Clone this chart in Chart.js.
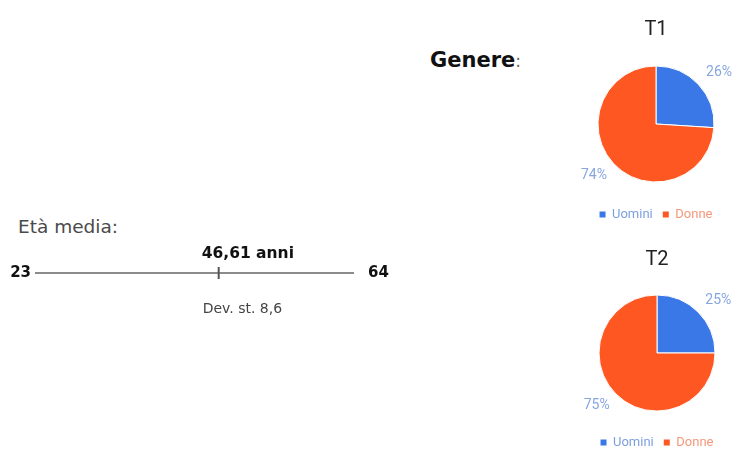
<!DOCTYPE html>
<html lang="it">
<head>
<meta charset="utf-8">
<title>Età media e genere</title>
<script src="https://cdn.jsdelivr.net/npm/chart.js@4"></script>
<style>
  html, body { margin: 0; padding: 0; background: #fff; }
  body { width: 734px; height: 454px; position: relative; overflow: hidden; font-family: 'DejaVu Sans', sans-serif; }
  .box { position: absolute; }
  #eta-label { position: absolute; left: 18px; top: 216px; font-size: 18.5px; color: #4a4a4a; }
  #genere-label { position: absolute; left: 430px; top: 48px; font-size: 21px; font-weight: bold; color: #111; }
  #genere-label span { font-weight: normal; color: #666; font-size: 17px; }
</style>
</head>
<body>
<div id="eta-label">Età media:</div>
<div id="genere-label">Genere<span>:</span></div>
<div class="box" style="left:0;top:200px;width:400px;height:130px"><canvas id="age"></canvas></div>
<div class="box" style="left:569px;top:12px;width:174px;height:219px"><canvas id="pie-t1"></canvas></div>
<div class="box" style="left:570px;top:242px;width:174px;height:217px"><canvas id="pie-t2"></canvas></div>
<script>
// età
const ageRange = [23, 64];
const ageMean = 46.61;
const ageStd = 8.6;

// genere
const genderLabels = ['Uomini', 'Donne'];
const genderColors = ['#3b78e7', '#ff5722'];
const legendTextColors = ['#7d9fdf', '#f4977a'];
const periods = ['T1', 'T2'];
const t1Values = [26, 74];
const t2Values = [25, 75];

const fmt = n => n.toString().replace('.', ',');

// estremi, media e deviazione attorno alla linea
const ageText = {
  id: 'ageText',
  afterDraw(chart) {
    const { ctx, scales: { x, y } } = chart;
    const y0 = y.getPixelForValue(0);
    const xMin = x.getPixelForValue(ageRange[0]);
    const xMax = x.getPixelForValue(ageRange[1]);
    const xm = x.getPixelForValue(ageMean);
    ctx.save();
    ctx.fillStyle = '#111';
    ctx.font = 'bold 15px "DejaVu Sans", sans-serif';
    ctx.textBaseline = 'middle';
    ctx.textAlign = 'right';
    ctx.fillText(fmt(ageRange[0]), xMin - 4, y0);
    ctx.textAlign = 'left';
    ctx.fillText(fmt(ageRange[1]), xMax + 14, y0);
    // tacca della media
    ctx.strokeStyle = '#555';
    ctx.lineWidth = 2;
    ctx.beginPath();
    ctx.moveTo(xm, y0 - 6);
    ctx.lineTo(xm, y0 + 6);
    ctx.stroke();
    ctx.font = 'bold 15.5px "DejaVu Sans", sans-serif';
    ctx.fillText(fmt(ageMean) + ' anni', xm - 17, y0 - 19);
    ctx.font = '14px "DejaVu Sans", sans-serif';
    ctx.fillStyle = '#444';
    ctx.fillText('Dev. st. ' + fmt(ageStd), xm - 16, y0 + 36);
    ctx.restore();
  }
};

new Chart(document.getElementById('age'), {
  type: 'scatter',
  data: {
    datasets: [{
      data: ageRange.map(v => ({ x: v, y: 0 })),
      showLine: true,
      borderColor: '#666',
      borderWidth: 1.5,
      pointRadius: 0
    }]
  },
  options: {
    responsive: true,
    maintainAspectRatio: false,
    animation: false,
    layout: { padding: { left: 35, right: 46, top: 30, bottom: 14 } },
    plugins: { legend: { display: false }, tooltip: { enabled: false } },
    scales: {
      x: { type: 'linear', min: ageRange[0], max: ageRange[1], display: false },
      y: { min: -1, max: 1, display: false }
    }
  },
  plugins: [ageText]
});

// percentuali fuori dalla torta
const outsideLabels = {
  id: 'outsideLabels',
  afterDatasetsDraw(chart) {
    const { ctx } = chart;
    const meta = chart.getDatasetMeta(0);
    const data = chart.data.datasets[0].data;
    const total = data.reduce((a, b) => a + b, 0);
    ctx.save();
    ctx.font = '14px Roboto, sans-serif';
    ctx.textAlign = 'center';
    ctx.textBaseline = 'middle';
    ctx.fillStyle = '#86a6e0';
    meta.data.forEach((arc, i) => {
      const mid = (arc.startAngle + arc.endAngle) / 2;
      const r = arc.outerRadius + 23;
      const dx = Math.cos(mid) * r + (Math.cos(mid) > 0 ? 4 : -3);
      const dy = Math.sin(mid) * r * 0.92;
      ctx.fillText(Math.round(data[i] / total * 100) + '%', arc.x + dx, arc.y + dy);
    });
    ctx.restore();
  }
};

function genderPie(id, title, values) {
  return new Chart(document.getElementById(id), {
    type: 'pie',
    data: {
      labels: genderLabels,
      datasets: [{
        data: values,
        backgroundColor: genderColors,
        borderColor: '#fff',
        borderWidth: 1,
        radius: 58
      }]
    },
    options: {
      responsive: true,
      maintainAspectRatio: false,
      animation: false,
      layout: { padding: 0 },
      plugins: {
        title: {
          display: true,
          text: title,
          color: '#222',
          font: { size: 20, family: 'Roboto, sans-serif', weight: 'normal' },
          padding: { top: 6, bottom: 8 }
        },
        legend: {
          position: 'bottom',
          labels: {
            boxWidth: 6,
            boxHeight: 6,
            padding: 10,
            font: { size: 13, family: 'Roboto, sans-serif' },
            generateLabels() {
              return genderLabels.map((l, i) => ({
                text: l,
                fillStyle: genderColors[i],
                strokeStyle: genderColors[i],
                lineWidth: 0,
                fontColor: legendTextColors[i],
                index: i,
                datasetIndex: 0
              }));
            }
          }
        },
        tooltip: { enabled: false }
      }
    },
    plugins: [outsideLabels]
  });
}

genderPie('pie-t1', periods[0], t1Values);
genderPie('pie-t2', periods[1], t2Values);
</script>
</body>
</html>
